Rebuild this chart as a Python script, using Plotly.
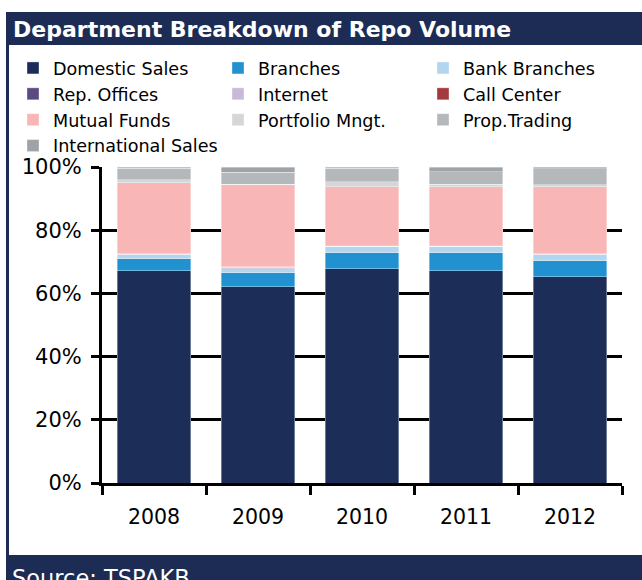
import plotly.graph_objects as go

years = ["2008", "2009", "2010", "2011", "2012"]

domestic_sales = [67.2, 62.1, 67.8, 67.2, 65.3]
branches = [3.7, 4.5, 5.1, 5.7, 5.0]
bank_branches = [1.3, 1.2, 2.0, 2.0, 1.9]
rep_offices = [0.1, 0.2, 0.1, 0.1, 0.1]
internet = [0.1, 0.3, 0.1, 0.1, 0.1]
call_center = [0.1, 0.1, 0.1, 0.1, 0.1]
mutual_funds = [22.5, 26.0, 18.6, 18.6, 21.2]
portfolio_mngt = [0.9, 0.2, 1.5, 0.7, 0.7]
prop_trading = [3.7, 3.8, 4.3, 4.0, 5.0]
international_sales = [0.4, 1.6, 0.4, 1.5, 0.5]

series = [
    ("Domestic Sales", domestic_sales, "#1C2D57"),
    ("Branches", branches, "#2191D0"),
    ("Bank Branches", bank_branches, "#B2D5F0"),
    ("Rep. Offices", rep_offices, "#5B4B82"),
    ("Internet", internet, "#C9B9D9"),
    ("Call Center", call_center, "#A23A3F"),
    ("Mutual Funds", mutual_funds, "#F9B6B6"),
    ("Portfolio Mngt.", portfolio_mngt, "#D6D6D6"),
    ("Prop.Trading", prop_trading, "#B5B8BB"),
    ("International Sales", international_sales, "#9DA3A6"),
]

title_text = "Department Breakdown of Repo Volume"
source_text = "Source: TSPAKB"

W, H = 642, 580
NAVY = "#1D2C55"


def px(x):
    return x / W


def py(y):
    return 1 - y / H


fig = go.Figure()
for name, vals, col in series:
    fig.add_trace(go.Bar(
        x=years, y=vals, name=name,
        marker=dict(color=col, line=dict(color="rgba(255,255,255,0.6)", width=0.6)),
        hoverinfo="skip",
    ))

fig.update_layout(
    width=W, height=H,
    margin=dict(l=0, r=0, t=0, b=0, autoexpand=False),
    paper_bgcolor="white", plot_bgcolor="white",
    barmode="stack", bargap=0.29,
    font=dict(family="DejaVu Sans", size=20, color="black"),
    showlegend=True,
    legend=dict(
        orientation="h", x=px(13), xanchor="left", y=py(50), yanchor="top",
        traceorder="normal", entrywidth=160, entrywidthmode="pixels",
        font=dict(family="DejaVu Sans", size=17.6, color="black"),
        bgcolor="rgba(0,0,0,0)", tracegroupgap=0,
    ),
    xaxis=dict(
        domain=[px(102), px(622)], type="category",
        showline=True, linecolor="black", linewidth=3,
        ticks="outside", tickson="boundaries", ticklen=9, tickwidth=3, tickcolor="black",
        showgrid=False, tickfont=dict(size=20.5), ticklabelstandoff=13,
    ),
    yaxis=dict(
        domain=[py(483), py(167)], range=[0, 100], dtick=20, ticksuffix="%",
        showline=True, linecolor="black", linewidth=3,
        ticks="outside", ticklen=8, tickwidth=3, tickcolor="black",
        showgrid=True, gridcolor="black", gridwidth=3, zeroline=False,
        tickfont=dict(size=21), ticklabelstandoff=5,
    ),
    shapes=[
        dict(type="rect", xref="paper", yref="paper", x0=px(6), x1=px(642), y0=py(45), y1=py(12),
             fillcolor=NAVY, line=dict(width=0), layer="below"),
        dict(type="rect", xref="paper", yref="paper", x0=px(6), x1=px(9), y0=py(580), y1=py(12),
             fillcolor=NAVY, line=dict(width=0), layer="below"),
        dict(type="rect", xref="paper", yref="paper", x0=px(6), x1=px(642), y0=py(580), y1=py(555),
             fillcolor=NAVY, line=dict(width=0), layer="below"),
    ],
    annotations=[
        dict(text="<b>" + title_text + "</b>", xref="paper", yref="paper", x=px(11), y=py(29),
             xanchor="left", yanchor="middle", showarrow=False,
             font=dict(family="DejaVu Sans", size=22, color="white")),
        dict(text=source_text, xref="paper", yref="paper", x=px(10), y=py(578),
             xanchor="left", yanchor="middle", showarrow=False,
             font=dict(family="DejaVu Sans", size=22.5, color="white")),
    ],
)

fig.write_html("out.html", config={"displayModeBar": False},
               post_script="document.body.style.margin='0';document.body.style.overflow='hidden';")
